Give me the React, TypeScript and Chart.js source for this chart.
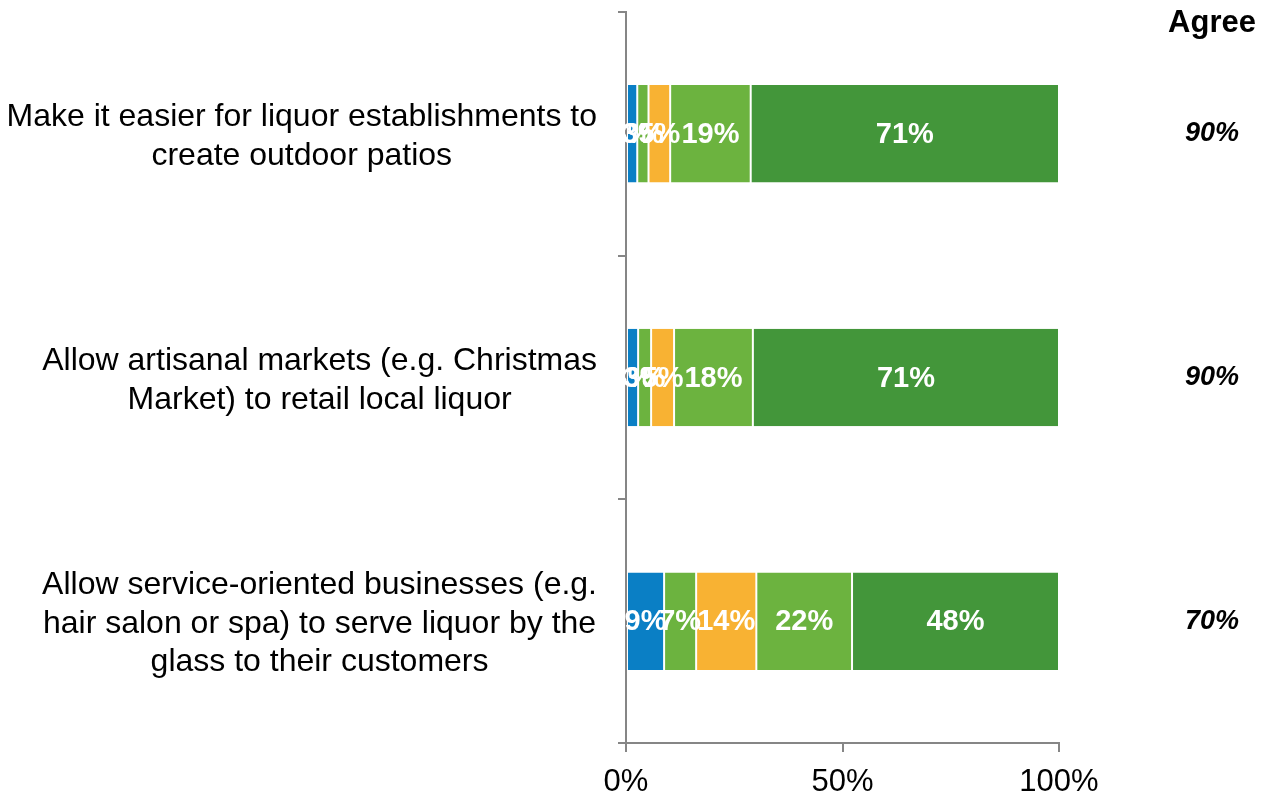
import React, { useEffect, useRef } from "react";
import { Chart, registerables } from "chart.js";

Chart.register(...registerables);

const categories: string[][] = [
  ["Make it easier for liquor establishments to", "create outdoor patios"],
  ["Allow artisanal markets (e.g. Christmas", "Market) to retail local liquor"],
  ["Allow service-oriented businesses (e.g.", "hair salon or spa) to serve liquor by the", "glass to their customers"],
];
const stronglyDisagree = [2.6, 2.8, 8.8];
const somewhatDisagree = [2.6, 3.0, 7.4];
const neutral = [5.0, 5.3, 13.9];
const somewhatAgree = [18.6, 18.2, 22.1];
const stronglyAgree = [71.2, 70.7, 47.8];
const agreeTotals = ["90%", "90%", "70%"];
const xTicks = [0, 50, 100];

const FONT = "'Liberation Sans', Arial, sans-serif";

export default function App() {
  const ref = useRef<HTMLCanvasElement | null>(null);
  useEffect(() => {
    if (!ref.current) return;
    const labelsPlugin = {
      id: "customLabels",
      afterDatasetsDraw(chart: any) {
        const ctx = chart.ctx;
        const area = chart.chartArea;
        const yScale = chart.scales.y;
        const xScale = chart.scales.x;
        ctx.save();
        ctx.textAlign = "center";
        ctx.textBaseline = "middle";
        // data labels
        ctx.fillStyle = "#ffffff";
        ctx.font = `bold 29px ${FONT}`;
        chart.data.datasets.forEach((ds: any, di: number) => {
          const meta = chart.getDatasetMeta(di);
          meta.data.forEach((bar: any, i: number) => {
            const v = ds.data[i];
            const cx = (bar.x + bar.base) / 2;
            ctx.fillText(Math.round(v) + "%", cx, bar.y + 1);
          });
        });
        // category labels
        ctx.fillStyle = "#000000";
        ctx.font = `32px ${FONT}`;
        categories.forEach((lines, i) => {
          const cy = yScale.getPixelForValue(i) + 3;
          const widest = Math.max(...lines.map((l) => ctx.measureText(l).width));
          const right = area.left - 29;
          const cx = right - widest / 2;
          const lh = 38.5;
          const top = cy - ((lines.length - 1) * lh) / 2;
          lines.forEach((l, j) => ctx.fillText(l, cx, top + j * lh));
        });
        // x tick labels
        ctx.font = `31px ${FONT}`;
        xTicks.forEach((v) => {
          ctx.fillText(v + "%", xScale.getPixelForValue(v), area.bottom + 39);
        });
        // Agree column
        const colX = area.right + 153;
        ctx.font = `bold 31px ${FONT}`;
        ctx.fillText("Agree", colX, 23);
        ctx.font = `italic bold 27px ${FONT}`;
        agreeTotals.forEach((t, i) => {
          ctx.fillText(t, colX, yScale.getPixelForValue(i));
        });
        ctx.restore();
      },
    };
    const mk = (label: string, data: number[], color: string) => ({
      label,
      data,
      backgroundColor: color,
      borderColor: "rgba(255,255,255,0.35)",
      borderWidth: { left: 1, right: 1, top: 0, bottom: 0 },
      borderSkipped: false,
      barPercentage: 0.4,
      categoryPercentage: 1,
    });
    const chart = new Chart(ref.current, {
      type: "bar",
      data: {
        labels: categories.map((c) => c.join(" ")),
        datasets: [
          mk("Strongly disagree", stronglyDisagree, "#0A7FC5"),
          mk("Somewhat disagree", somewhatDisagree, "#6CB33F"),
          mk("Neutral", neutral, "#F8B233"),
          mk("Somewhat agree", somewhatAgree, "#6CB33F"),
          mk("Strongly agree", stronglyAgree, "#43963A"),
        ],
      },
      options: {
        indexAxis: "y",
        animation: false,
        responsive: true,
        maintainAspectRatio: false,
        layout: { padding: { top: 12, right: 210, left: 0, bottom: 0 } },
        plugins: { legend: { display: false }, tooltip: { enabled: false } },
        scales: {
          x: {
            stacked: true,
            min: 0,
            max: 100,
            afterBuildTicks: (scale: any) => {
              scale.ticks = xTicks.map((v) => ({ value: v }));
            },
            afterFit: (scale: any) => {
              scale.height = 55;
            },
            ticks: { display: false },
            grid: { drawOnChartArea: false, drawTicks: true, tickLength: 9, color: "#868686", lineWidth: 2 },
            border: { display: true, color: "#868686", width: 2 },
          },
          y: {
            stacked: true,
            afterFit: (scale: any) => {
              scale.width = 626;
            },
            ticks: { display: false },
            grid: { drawOnChartArea: false, drawTicks: true, tickLength: 8, color: "#868686", lineWidth: 2, offset: true },
            border: { display: true, color: "#868686", width: 2 },
          },
        },
      },
      plugins: [labelsPlugin],
    } as any);
    return () => chart.destroy();
  }, []);
  return (
    <div style={{ position: "fixed", left: 0, top: 0, width: 1269, height: 798, background: "#fff" }}>
      <canvas ref={ref} />
    </div>
  );
}
